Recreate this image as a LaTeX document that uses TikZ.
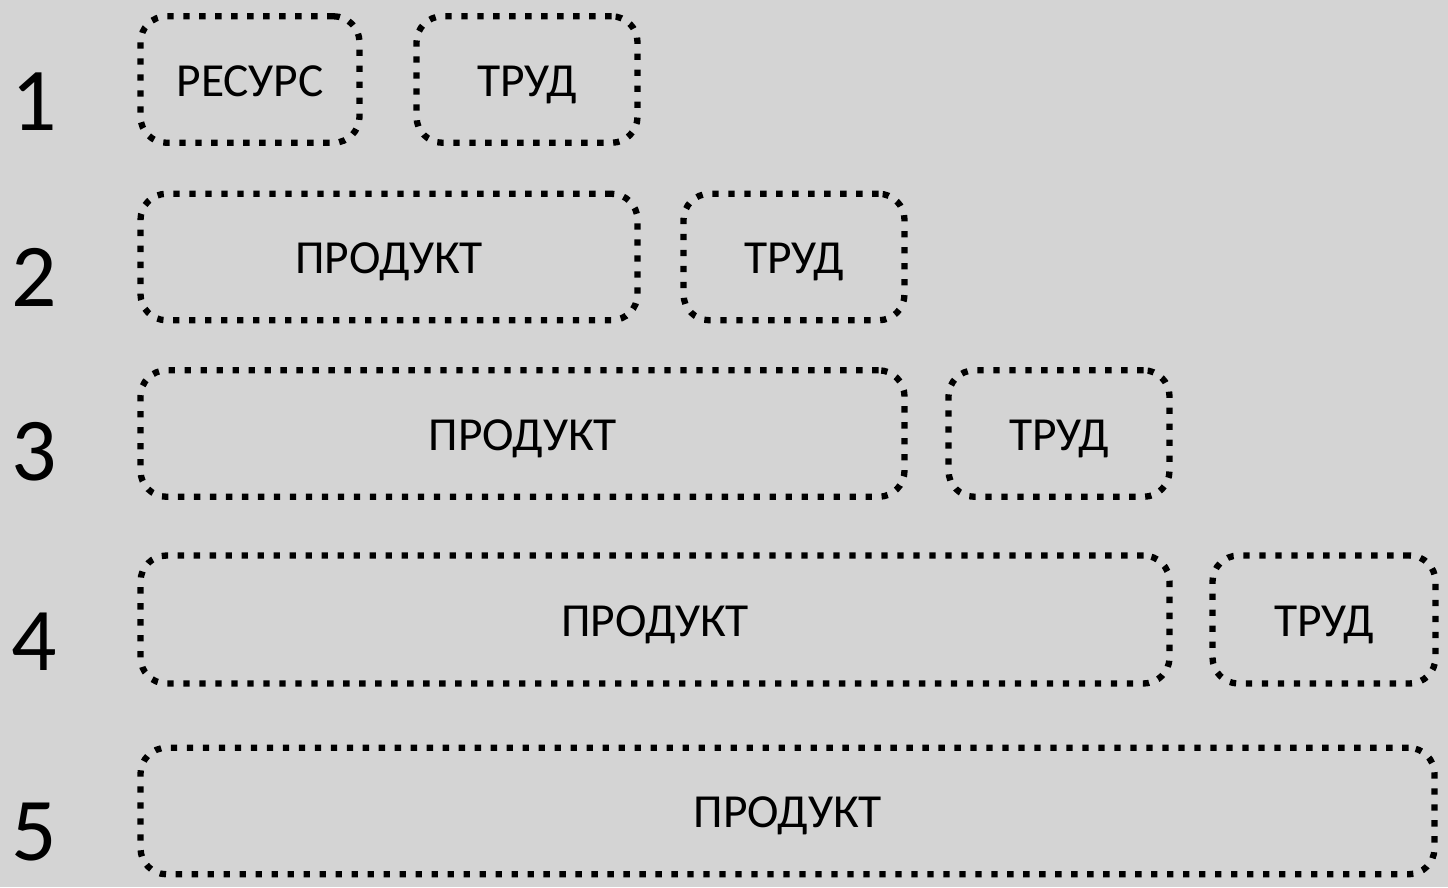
\documentclass[tikz,border=0pt]{standalone}
\usepackage{fontspec}
\setmainfont{Carlito}
\definecolor{bggray}{RGB}{212,212,212}
\tikzset{
  stagebox/.style={draw=black, line width=1.8pt, dash pattern=on 1.8pt off 2.75pt,
    rounded corners=2.6mm, inner sep=0pt, font=\fontsize{13.5}{16}\selectfont,
    text height=9.4pt, text depth=0pt, minimum height=12.65mm},
  rownum/.style={anchor=base, font=\fontsize{25.5}{30}\selectfont}
}
\begin{document}
\begin{tikzpicture}[x=0.1mm,y=-0.1mm]
    \fill[bggray] (0,0) rectangle (1448,887);
    \useasboundingbox (0,0) rectangle (1448,887);
    % row numbers
    \node[rownum] (n1) at (34,130) {1};
    \node[rownum] (n2) at (34,306) {2};
    \node[rownum] (n3) at (34,480) {3};
    \node[rownum] (n4) at (34,670) {4};
    \node[rownum] (n5) at (34,860) {5};
    % row 1
    \node[stagebox, minimum width=21.9mm] (res1) at (250,79.5) {РЕСУРС};
    \node[stagebox, minimum width=22.1mm] (lab1) at (527,79.5) {ТРУД};
    % row 2
    \node[stagebox, minimum width=49.7mm] (prod2) at (389,257) {ПРОДУКТ};
    \node[stagebox, minimum width=22.1mm] (lab2) at (794,257) {ТРУД};
    % row 3
    \node[stagebox, minimum width=76.4mm] (prod3) at (522.5,433.5) {ПРОДУКТ};
    \node[stagebox, minimum width=22.1mm] (lab3) at (1059,433.5) {ТРУД};
    % row 4
    \node[stagebox, minimum width=102.9mm, minimum height=12.8mm] (prod4) at (655,619.5) {ПРОДУКТ};
    \node[stagebox, minimum width=22.3mm, minimum height=12.8mm] (lab4) at (1324,619.5) {ТРУД};
    % row 5
    \node[stagebox, minimum width=129.4mm] (prod5) at (787.5,811) {ПРОДУКТ};
\end{tikzpicture}
\end{document}
